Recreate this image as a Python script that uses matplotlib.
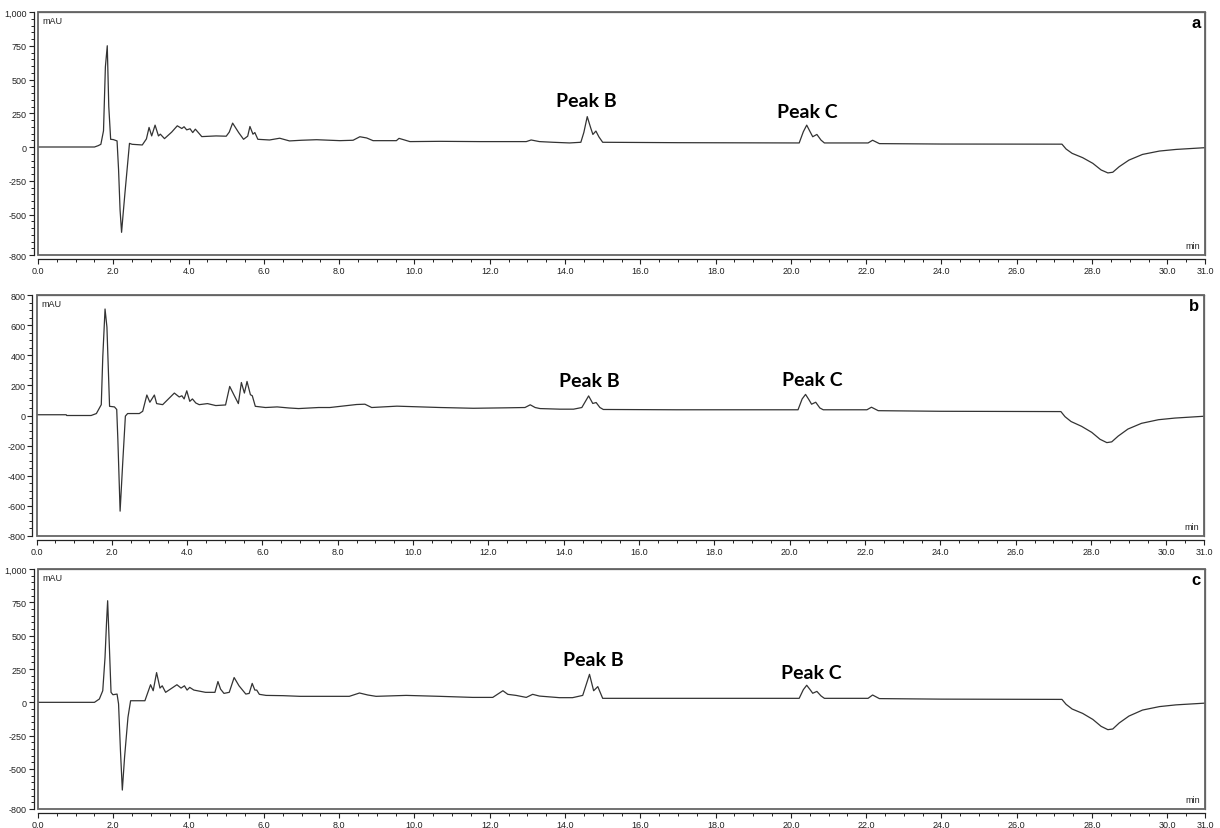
import matplotlib
matplotlib.use("Agg")
import matplotlib.pyplot as plt
from matplotlib.patches import Rectangle
from matplotlib.ticker import MultipleLocator, FixedLocator
import numpy as np

# ---------------- data (retention time in min, signal in mAU) ----------------
time_a = [0, 1.5, 1.6, 1.67, 1.74, 1.79, 1.84, 1.88, 1.93, 2.0,
          2.1, 2.14, 2.18, 2.22, 2.26, 2.31, 2.43, 2.5, 2.77, 2.88,
          2.95, 3.02, 3.11, 3.2, 3.25, 3.36, 3.55, 3.7, 3.82, 3.88,
          3.95, 4.04, 4.11, 4.18, 4.28, 4.35, 4.73, 5.0, 5.08, 5.17,
          5.33, 5.46, 5.57, 5.63, 5.71, 5.76, 5.84, 6.15, 6.42, 6.68,
          7.0, 7.4, 8.02, 8.37, 8.55, 8.73, 8.9, 9.52, 9.59, 9.7,
          9.88, 10.67, 11.73, 12.44, 12.97, 13.1, 13.32, 13.68, 14.12, 14.42,
          14.5, 14.59, 14.68, 14.74, 14.82, 14.9, 15.0, 17.0, 20.22, 20.33,
          20.42, 20.51, 20.58, 20.69, 20.8, 20.89, 22.05, 22.17, 22.35, 24.0,
          27.2, 27.31, 27.47, 27.75, 28.02, 28.24, 28.42, 28.55, 28.72, 28.98,
          29.34, 29.79, 30.23, 31.0]
mau_a = [0, 0, 10, 20, 120, 593, 750, 300, 57, 55,
         45, -167, -466, -632, -500, -340, 27, 20, 15, 60,
         145, 82, 162, 82, 95, 62, 110, 157, 137, 150,
         127, 135, 107, 132, 100, 77, 82, 80, 110, 177,
         107, 57, 80, 152, 95, 107, 57, 52, 65, 45,
         50, 54, 47, 50, 76, 67, 47, 47, 64, 55,
         40, 42, 40, 40, 40, 52, 40, 35, 30, 35,
         108, 225, 143, 93, 118, 75, 35, 32, 30, 113,
         162, 113, 76, 93, 51, 30, 30, 50, 25, 22,
         21, -15, -47, -79, -121, -170, -192, -187, -146, -97,
         -55, -30, -18, -5]

time_b = [0, 0.79, 0.8, 1.45, 1.59, 1.72, 1.76, 1.82, 1.87, 1.94,
          2.07, 2.13, 2.16, 2.22, 2.29, 2.36, 2.42, 2.73, 2.82, 2.93,
          3.01, 3.13, 3.19, 3.35, 3.66, 3.79, 3.86, 3.92, 3.99, 4.07,
          4.14, 4.23, 4.32, 4.54, 4.76, 5.02, 5.13, 5.24, 5.36, 5.44,
          5.52, 5.59, 5.68, 5.73, 5.81, 6.08, 6.39, 6.7, 6.96, 7.49,
          7.79, 8.5, 8.72, 8.9, 9.57, 10.72, 11.6, 12.49, 12.97, 13.11,
          13.24, 13.37, 13.9, 14.26, 14.48, 14.66, 14.77, 14.86, 14.96, 15.05,
          17.0, 20.22, 20.33, 20.42, 20.51, 20.58, 20.69, 20.8, 20.89, 22.05,
          22.17, 22.35, 24.0, 27.2, 27.31, 27.47, 27.75, 28.02, 28.24, 28.42,
          28.55, 28.72, 28.98, 29.34, 29.79, 30.23, 31.0]
mau_b = [5, 5, 0, 0, 13, 72, 390, 707, 587, 61,
         57, 40, -158, -635, -311, -4, 13, 13, 28, 136,
         88, 136, 79, 72, 149, 123, 131, 110, 164, 94,
         110, 83, 72, 79, 66, 70, 193, 138, 79, 219,
         149, 226, 138, 131, 61, 53, 57, 50, 46, 53,
         53, 73, 75, 53, 62, 53, 48, 51, 53, 71,
         53, 46, 42, 42, 53, 130, 80, 86, 53, 40,
         38, 38, 110, 140, 105, 75, 88, 50, 38, 38,
         55, 32, 28, 26, -8, -40, -72, -112, -158, -180,
         -175, -137, -90, -52, -28, -17, -5]

time_c = [0, 1.5, 1.63, 1.72, 1.78, 1.82, 1.85, 1.9, 1.94, 1.99,
          2.1, 2.14, 2.19, 2.24, 2.3, 2.39, 2.46, 2.84, 2.99, 3.06,
          3.15, 3.24, 3.3, 3.39, 3.69, 3.8, 3.89, 3.96, 4.03, 4.14,
          4.45, 4.7, 4.78, 4.85, 4.94, 5.08, 5.21, 5.34, 5.52, 5.61,
          5.69, 5.76, 5.81, 5.88, 6.06, 6.51, 6.96, 7.57, 8.27, 8.54,
          8.76, 8.98, 9.78, 10.67, 11.55, 12.08, 12.35, 12.48, 12.7, 12.97,
          13.14, 13.32, 13.85, 14.2, 14.47, 14.65, 14.76, 14.87, 15.0, 17.0,
          20.22, 20.33, 20.42, 20.51, 20.58, 20.69, 20.8, 20.89, 22.05, 22.17,
          22.35, 24.0, 27.2, 27.31, 27.47, 27.75, 28.02, 28.24, 28.42, 28.55,
          28.72, 28.98, 29.34, 29.79, 30.23, 31.0]
mau_c = [0, 0, 25, 87, 335, 596, 762, 385, 75, 57,
         62, -12, -360, -658, -410, -112, 12, 12, 132, 87,
         223, 107, 124, 75, 132, 107, 124, 92, 112, 92,
         75, 75, 156, 99, 67, 75, 186, 124, 62, 67,
         142, 92, 92, 60, 52, 50, 45, 45, 45, 70,
         55, 45, 52, 45, 37, 37, 87, 60, 52, 37,
         60, 47, 35, 35, 52, 210, 87, 118, 30, 30,
         30, 95, 128, 95, 68, 82, 48, 30, 30, 55,
         28, 24, 22, -15, -50, -83, -128, -180, -205, -200,
         -155, -103, -58, -32, -19, -6]

panel_letters = ["a", "b", "c"]
peak_names = ["Peak B", "Peak C"]
# label anchor positions (time, mAU) for each panel
peak_label_time = [[14.57, 20.44], [14.67, 20.59], [14.75, 20.55]]
peak_label_mau = [[344, 263], [231, 238], [323, 226]]

yticks_ac = [-800, -500, -250, 0, 250, 500, 750, 1000]
ylabels_ac = ["-800", "-500", "-250", "0", "250", "500", "750", "1,000"]
yticks_b = [-800, -600, -400, -200, 0, 200, 400, 600, 800]
ylabels_b = ["-800", "-600", "-400", "-200", "0", "200", "400", "600", "800"]
xticks = [0, 2, 4, 6, 8, 10, 12, 14, 16, 18, 20, 22, 24, 26, 28, 30, 31]
xlabels = ["0.0", "2.0", "4.0", "6.0", "8.0", "10.0", "12.0", "14.0", "16.0",
           "18.0", "20.0", "22.0", "24.0", "26.0", "28.0", "30.0", "31.0"]

# ---------------- figure ----------------
W, H = 1220, 829
fig = plt.figure(figsize=(W / 100, H / 100), dpi=100)
fig.patch.set_facecolor("white")

def fx(px):
    return px / W

def fy(py):
    return 1 - py / H

# (left, top, right, bottom) in pixels
boxes = [(38, 13, 1205, 256), (36.5, 296, 1204, 537), (38, 570, 1205, 810)]
series = [(time_a, mau_a), (time_b, mau_b), (time_c, mau_c)]
ylims = [(-800, 1000), (-800, 800), (-800, 1000)]
yt = [(yticks_ac, ylabels_ac), (yticks_b, ylabels_b), (yticks_ac, ylabels_ac)]

tick_font = dict(family="Liberation Sans", size=6.5, color="#222222")

for i in range(3):
    l, t, r, b = boxes[i]
    ax = fig.add_axes([fx(l), fy(b), fx(r) - fx(l), (b - t) / H])
    tt, vv = series[i]
    ax.plot(tt, vv, color="#333333", lw=0.9, solid_joinstyle="round")
    ax.set_xlim(0, 31)
    ax.set_ylim(*ylims[i])

    # rulers offset from the frame
    for s in ["left", "bottom"]:
        ax.spines[s].set_position(("outward", 3))
        ax.spines[s].set_color("#222222")
        ax.spines[s].set_linewidth(0.9)
    for s in ["top", "right"]:
        ax.spines[s].set_color("#555555")
        ax.spines[s].set_linewidth(0.9)
    ax.add_patch(Rectangle((0, 0), 1, 1, transform=ax.transAxes, fill=False,
                           edgecolor="#666666", lw=1.3, clip_on=False, zorder=5))

    ax.xaxis.set_major_locator(FixedLocator(xticks))
    ax.set_xticklabels(xlabels, fontdict=tick_font)
    ax.xaxis.set_minor_locator(MultipleLocator(0.5))
    ax.set_yticks(yt[i][0])
    ax.set_yticklabels(yt[i][1], fontdict=tick_font)
    ax.yaxis.set_minor_locator(MultipleLocator(50))
    ax.tick_params(which="major", direction="out", length=3.5, width=0.8,
                   color="#222222", pad=1.5)
    ax.tick_params(which="minor", direction="out", length=2, width=0.7,
                   color="#222222")

    ax.text(0.004, 0.985, "mAU", transform=ax.transAxes, ha="left", va="top",
            family="Liberation Sans", size=6.5, color="#222222")
    ax.text(0.996, 0.02, "min", transform=ax.transAxes, ha="right",
            va="bottom", family="Liberation Sans", size=6.5, color="#222222")
    ax.text(0.996, 0.955, panel_letters[i], transform=ax.transAxes,
            ha="right", va="center", family="Liberation Sans",
            fontweight="bold", size=12, color="black")
    for k in range(2):
        ax.text(peak_label_time[i][k], peak_label_mau[i][k], peak_names[k],
                ha="center", va="center", family="Lato", fontweight="bold",
                size=14, color="black")

fig.savefig("out.png", dpi=100, facecolor="white")
